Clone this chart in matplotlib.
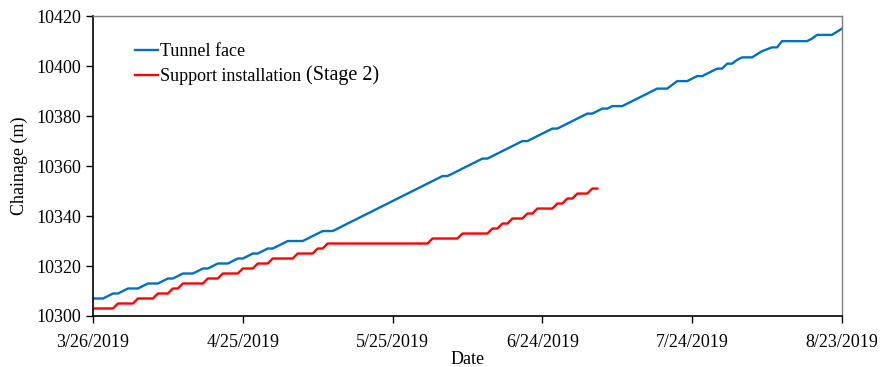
import datetime as dt

import matplotlib
matplotlib.use("Agg")
import matplotlib.pyplot as plt
import matplotlib.dates as mdates
import numpy as np

plt.rcParams['font.family'] = ['Liberation Serif', 'DejaVu Serif']

# Days counted from 26 Mar 2019 and the chainage reached on that day (m)
start = dt.date(2019, 3, 26)

face_day = [0, 2, 4, 5, 7, 9, 11, 13, 15, 16, 18, 20, 22, 23, 25, 27, 29, 30,
            32, 33, 35, 36, 39, 42, 46, 48, 70, 71, 78, 79, 86, 87, 92, 93,
            99, 100, 102, 103, 104, 106, 113, 115, 117, 119, 121, 122, 125,
            126, 127, 128, 129, 130, 132, 134, 136, 137, 138, 143, 144, 145,
            148, 150]
face_chainage = [10307, 10307, 10309, 10309, 10311, 10311, 10313, 10313, 10315,
                 10315, 10317, 10317, 10319, 10319, 10321, 10321, 10323, 10323,
                 10325, 10325, 10327, 10327, 10330, 10330, 10334, 10334, 10356,
                 10356, 10363, 10363, 10370, 10370, 10375, 10375, 10381, 10381,
                 10383, 10383, 10384, 10384, 10391, 10391, 10394, 10394, 10396,
                 10396, 10399, 10399, 10401, 10401, 10402.5, 10403.5, 10403.5,
                 10406, 10407.5, 10407.5, 10410, 10410, 10411, 10412.5,
                 10412.5, 10415]

support_day = [0, 4, 5, 8, 9, 12, 13, 15, 16, 17, 18, 22, 23, 25, 26, 29, 30,
               32, 33, 35, 36, 40, 41, 44, 45, 46, 47, 67, 68, 73, 74, 79, 80,
               81, 82, 83, 84, 86, 87, 88, 89, 92, 93, 94, 95, 96, 97, 99, 100,
               101]
support_chainage = [10303, 10303, 10305, 10305, 10307, 10307, 10309, 10309,
                    10311, 10311, 10313, 10313, 10315, 10315, 10317, 10317,
                    10319, 10319, 10321, 10321, 10323, 10323, 10325, 10325,
                    10327, 10327, 10329, 10329, 10331, 10331, 10333, 10333,
                    10335, 10335, 10337, 10337, 10339, 10339, 10341, 10341,
                    10343, 10343, 10345, 10345, 10347, 10347, 10349, 10349,
                    10351, 10351]

tick_day = [0, 30, 60, 90, 120, 150]


def to_dates(days):
    return [start + dt.timedelta(days=d) for d in days]


fig = plt.figure(figsize=(8.81, 3.67), dpi=100)
ax = fig.add_axes([0.1056, 0.139, 0.8501, 0.817])

ax.plot(to_dates(face_day), face_chainage, color='#0070C0', lw=1.7,
        label='Tunnel face')
ax.plot(to_dates(support_day), support_chainage, color='#FF0000', lw=1.7,
        label='Support installation')

ax.set_xlim(to_dates([0])[0], to_dates([150])[0])
ax.set_ylim(10300, 10420)
ax.set_yticks(np.arange(10300, 10421, 20))
ax.set_xticks(to_dates(tick_day))
ax.xaxis.set_major_formatter(plt.FuncFormatter(
    lambda v, pos: '{d.month}/{d.day}/{d.year}'.format(d=mdates.num2date(v))))

ax.tick_params(axis='both', direction='out', length=5, width=1,
               labelsize=13, colors='black')
ax.tick_params(axis='x', pad=8)
for side in ('left', 'bottom'):
    ax.spines[side].set_color('black')
    ax.spines[side].set_linewidth(1.2)
for side in ('top', 'right'):
    ax.spines[side].set_color('#7f7f7f')
    ax.spines[side].set_linewidth(1.0)

ax.set_xlabel('Date', fontsize=13, labelpad=0)
ax.set_ylabel('Chainage (m)', fontsize=13, labelpad=6)

leg = ax.legend(loc='upper left', bbox_to_anchor=(0.047, 0.935), frameon=False,
                fontsize=13, handlelength=1.25, handletextpad=0.12,
                labelspacing=0.45, borderaxespad=0)
fig.canvas.draw()
ax.annotate(' (Stage 2)', xy=(1, 0), xycoords=leg.get_texts()[1],
            va='bottom', ha='left', fontsize=14.5, zorder=6)

fig.savefig('out.png', dpi=100)
